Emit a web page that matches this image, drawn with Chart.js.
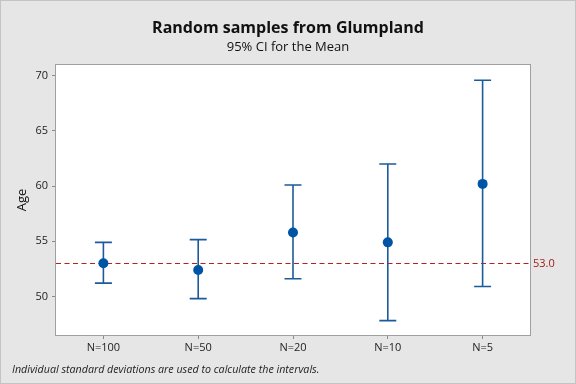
<!DOCTYPE html>
<html>
<head>
<meta charset="utf-8">
<script src="https://cdn.jsdelivr.net/npm/chart.js@4/dist/chart.umd.min.js"></script>
<style>
  html, body { margin: 0; padding: 0; background: #e6e6e6; }
  #wrap { width: 576px; height: 384px; }
</style>
</head>
<body>
<div id="wrap"><canvas id="c" width="576" height="384"></canvas></div>
<script>
const categories = ["N=100", "N=50", "N=20", "N=10", "N=5"];
const means = [53.0, 52.4, 55.8, 54.9, 60.2];
const lower = [51.2, 49.8, 51.6, 47.8, 50.9];
const upper = [54.9, 55.15, 60.1, 62.0, 69.6];
const yTicks = [50, 55, 60, 65, 70];
const refValue = 53.0;
const refLabel = "53.0";
const footnote = "Individual standard deviations are used to calculate the intervals.";

const FONT = "'Open Sans', 'Noto Sans', 'DejaVu Sans', sans-serif";

const framePlugin = {
  id: 'frame',
  beforeDraw(chart) {
    const ctx = chart.ctx, a = chart.chartArea;
    ctx.save();
    ctx.fillStyle = '#e6e6e6';
    ctx.fillRect(0, 0, chart.width, chart.height);
    ctx.strokeStyle = '#c4c4c4';
    ctx.lineWidth = 1;
    ctx.strokeRect(0.5, 0.5, chart.width - 1, chart.height - 1);
    ctx.fillStyle = '#ffffff';
    ctx.fillRect(a.left, a.top, a.right - a.left, a.bottom - a.top);
    ctx.restore();
  },
  beforeDatasetsDraw(chart) {
    const ctx = chart.ctx, a = chart.chartArea;
    const x = chart.scales.x, y = chart.scales.y;
    ctx.save();
    // reference line
    const yr = Math.round(y.getPixelForValue(refValue)) + 0.5;
    ctx.strokeStyle = '#b8201c';
    ctx.lineWidth = 1.2;
    ctx.setLineDash([5, 3.5]);
    ctx.beginPath();
    ctx.moveTo(a.left, yr);
    ctx.lineTo(a.right, yr);
    ctx.stroke();
    ctx.setLineDash([]);
    ctx.fillStyle = '#a01c1c';
    ctx.font = "11px " + FONT;
    ctx.textBaseline = 'middle';
    ctx.textAlign = 'left';
    ctx.fillText(refLabel, a.right + 3, yr);
    // error bars
    ctx.strokeStyle = '#1c5a9c';
    ctx.lineWidth = 1.6;
    categories.forEach((c, i) => {
      const px = x.getPixelForValue(i);
      const y1 = y.getPixelForValue(lower[i]);
      const y2 = y.getPixelForValue(upper[i]);
      ctx.beginPath();
      ctx.moveTo(px, y1); ctx.lineTo(px, y2);
      ctx.moveTo(px - 8.5, y1); ctx.lineTo(px + 8.5, y1);
      ctx.moveTo(px - 8.5, y2); ctx.lineTo(px + 8.5, y2);
      ctx.stroke();
    });
    ctx.restore();
  },
  afterDraw(chart) {
    const ctx = chart.ctx, a = chart.chartArea;
    ctx.save();
    ctx.strokeStyle = '#a0a0a0';
    ctx.lineWidth = 1;
    ctx.strokeRect(Math.round(a.left) - 0.5, Math.round(a.top) - 0.5,
                   Math.round(a.right - a.left) + 1, Math.round(a.bottom - a.top) + 1);
    ctx.fillStyle = '#222222';
    ctx.font = "italic 10.7px " + FONT;
    ctx.textBaseline = 'middle';
    ctx.textAlign = 'left';
    ctx.fillText(footnote, 12, 370);
    ctx.restore();
  }
};

new Chart(document.getElementById('c'), {
  type: 'line',
  data: {
    labels: categories,
    datasets: [{
      data: means,
      showLine: false,
      pointRadius: 5,
      pointHoverRadius: 5,
      pointBackgroundColor: '#0054a6',
      pointBorderColor: '#0054a6',
      pointBorderWidth: 0
    }]
  },
  options: {
    responsive: false,
    animation: false,
    events: [],
    layout: { padding: 0 },
    plugins: {
      legend: { display: false },
      tooltip: { enabled: false },
      title: {
        display: true,
        text: 'Random samples from Glumpland',
        color: '#111',
        font: { family: FONT, size: 16, weight: 'bold', lineHeight: 1.2 },
        padding: { top: 19, bottom: 0 }
      },
      subtitle: {
        display: true,
        text: '95% CI for the Mean',
        color: '#111',
        font: { family: FONT, size: 13, lineHeight: 1.2 },
        padding: { top: 1, bottom: 10 }
      }
    },
    scales: {
      x: {
        type: 'category',
        offset: true,
        border: { display: false },
        grid: { display: true, drawOnChartArea: false, tickLength: 4, color: '#8a8a8a', offset: false },
        ticks: { color: '#222', font: { family: FONT, size: 11 }, padding: 2, maxRotation: 0 },
        afterFit(s) { s.height = 49; }
      },
      y: {
        type: 'linear',
        min: 46.5,
        max: 71,
        border: { display: false },
        grid: { display: true, drawOnChartArea: false, tickLength: 4, color: '#8a8a8a' },
        ticks: { color: '#222', font: { family: FONT, size: 11 }, padding: 4 },
        afterBuildTicks(s) { s.ticks = yTicks.map(v => ({ value: v })); },
        title: { display: true, text: 'Age', color: '#111', font: { family: FONT, size: 13 }, padding: { top: 14, bottom: 0 } },
        afterFit(s) { s.width = 56; }
      },
      yR: {
        type: 'linear',
        position: 'right',
        display: true,
        border: { display: false },
        grid: { display: false },
        ticks: { display: false },
        afterFit(s) { s.width = 46; }
      }
    }
  },
  plugins: [framePlugin]
});
</script>
</body>
</html>
